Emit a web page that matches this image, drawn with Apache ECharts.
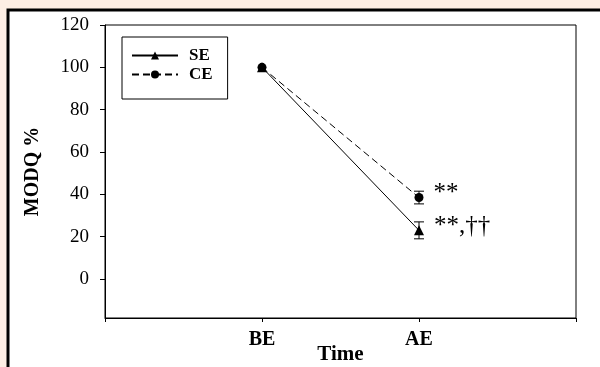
<!DOCTYPE html>
<html>
<head>
<meta charset="utf-8">
<script src="https://cdn.jsdelivr.net/npm/echarts@6/dist/echarts.min.js"></script>
<style>
html,body{margin:0;padding:0;background:#fdeee4;}
#main{width:600px;height:367px;}
</style>
</head>
<body>
<div id="main"></div>
<script>
// Data
var categories = ['BE', 'AE'];
var categoryPos = [1, 2];
var seValues = [100, 23];
var seErrors = [0, 4];
var ceValues = [100, 38.5];
var ceErrors = [0, 3];
var annotationSE = ['', '**,\u2020\u2020'];
var annotationCE = ['', '**'];
var yTicks = [0, 20, 40, 60, 80, 100, 120];

var serif = "'Liberation Serif','Times New Roman',serif";

function lineData(vals, ann) {
  return vals.map(function (v, i) {
    var d = { value: [categoryPos[i], v] };
    if (ann[i]) {
      d.label = {
        show: true, position: 'right', distance: 10, offset: [0, -4],
        formatter: ann[i], color: '#000', fontFamily: serif, fontSize: 25
      };
    }
    return d;
  });
}

function errData(vals, errs) {
  var out = [];
  vals.forEach(function (v, i) {
    if (errs[i] > 0) out.push([categoryPos[i], v - errs[i], v + errs[i]]);
  });
  return out;
}

function errRender(params, api) {
  var x = api.value(0);
  var lo = api.coord([x, api.value(1)]);
  var hi = api.coord([x, api.value(2)]);
  var w = 5;
  var st = { stroke: '#000', lineWidth: 1, fill: null };
  return {
    type: 'group',
    children: [
      { type: 'line', shape: { x1: lo[0], y1: lo[1], x2: hi[0], y2: hi[1] }, style: st },
      { type: 'line', shape: { x1: lo[0] - w, y1: lo[1], x2: lo[0] + w, y2: lo[1] }, style: st },
      { type: 'line', shape: { x1: hi[0] - w, y1: hi[1], x2: hi[0] + w, y2: hi[1] }, style: st }
    ]
  };
}

var chart = echarts.init(document.getElementById('main'));
chart.setOption({
  backgroundColor: '#fdeee4',
  animation: false,
  graphic: [{
    type: 'rect', z: -10, silent: true,
    shape: { x: 8, y: 10, width: 700, height: 500 },
    style: { fill: '#fff', stroke: '#000', lineWidth: 3 }
  }],
  grid: { left: 105, top: 25, right: 24, bottom: 49, outerBoundsMode: 'none', containLabel: false, show: true, borderColor: '#000', borderWidth: 1, backgroundColor: 'transparent' },
  legend: {
    data: ['SE', 'CE'],
    orient: 'vertical',
    left: 122, top: 37,
    padding: [10, 15, 16, 9],
    itemWidth: 46, itemHeight: 10, itemGap: 2,
    borderColor: '#000', borderWidth: 1,
    backgroundColor: '#fff',
    textStyle: { fontFamily: serif, fontWeight: 'bold', fontSize: 17, lineHeight: 16, color: '#000', padding: [0, 0, 0, 6] }
  },
  xAxis: {
    type: 'value', min: 0, max: 3, interval: 1,
    name: 'Time', nameLocation: 'middle', nameGap: 26, nameMoveOverlap: false,
    nameTextStyle: { fontFamily: serif, fontWeight: 'bold', fontSize: 21, color: '#000' },
    axisLine: { onZero: false, lineStyle: { color: '#000', width: 1 } },
    axisTick: { show: true, length: 4, lineStyle: { color: '#000' } },
    splitLine: { show: false },
    axisLabel: {
      margin: 12, fontFamily: serif, fontWeight: 'bold', fontSize: 20, color: '#000',
      formatter: function (v) { var i = categoryPos.indexOf(v); return i >= 0 ? categories[i] : ''; }
    }
  },
  yAxis: {
    type: 'value', min: -18.4, max: 120,
    name: 'MODQ %', nameLocation: 'middle', nameGap: 62, nameMoveOverlap: false,
    nameTextStyle: { fontFamily: serif, fontWeight: 'bold', fontSize: 20, color: '#000' },
    axisLine: { show: true, onZero: false, lineStyle: { color: '#000', width: 1 } },
    axisTick: { show: true, length: 5, customValues: yTicks, lineStyle: { color: '#000' } },
    splitLine: { show: false },
    axisLabel: { customValues: yTicks, margin: 16, fontFamily: serif, fontSize: 19, color: '#000' }
  },
  series: [
    {
      name: 'SE', type: 'line', data: lineData(seValues, annotationSE),
      symbol: 'triangle', symbolSize: 10,
      lineStyle: { color: '#000', width: 1, type: 'solid' },
      itemStyle: { color: '#000' }, z: 3
    },
    {
      name: 'CE', type: 'line', data: lineData(ceValues, annotationCE),
      symbol: 'circle', symbolSize: 9,
      lineStyle: { color: '#000', width: 1, type: [7, 4] },
      itemStyle: { color: '#000' }, z: 3
    },
    { name: 'SEerr', type: 'custom', renderItem: errRender, data: errData(seValues, seErrors), z: 2 },
    { name: 'CEerr', type: 'custom', renderItem: errRender, data: errData(ceValues, ceErrors), z: 2 }
  ]
});
</script>
</body>
</html>
